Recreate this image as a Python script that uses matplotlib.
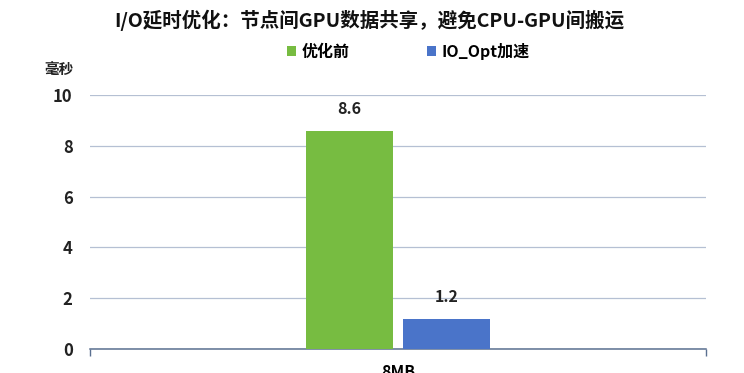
import matplotlib

matplotlib.use("Agg")
import matplotlib.pyplot as plt
import numpy as np

plt.rcParams["font.family"] = ["Noto Sans CJK SC", "DejaVu Sans"]
plt.rcParams["font.weight"] = "bold"

categories = ["8MB"]
series_names = ["优化前", "IO_Opt加速"]
before = [8.6]
optimized = [1.2]
colors = ["#77bc41", "#4a74c9"]

fig = plt.figure(figsize=(7.44, 3.73), dpi=100)
ax = fig.add_axes([0.121, 0.0643, 0.828, 0.681])

x = np.arange(len(categories))
w = 0.141
off = 0.079
b1 = ax.bar(x - off, before, w, color=colors[0], label=series_names[0], zorder=3)
b2 = ax.bar(x + off, optimized, w, color=colors[1], label=series_names[1], zorder=3)

for bars, vals in ((b1, before), (b2, optimized)):
    for r, v in zip(bars, vals):
        ax.text(r.get_x() + r.get_width() / 2, v + 0.55, f"{v}", ha="center",
                va="bottom", fontsize=11.5, fontweight="bold", color="#222222")

ax.set_xlim(-0.5, 0.5)
ax.set_ylim(0, 10)
ax.set_yticks(np.arange(0, 11, 2))
ax.set_xticks(x)
ax.set_xticklabels(categories, fontsize=11.5, fontweight="bold")
ax.set_xticks([-0.5, 0.5], minor=True)
ax.tick_params(axis="x", which="major", length=0, pad=11)
ax.tick_params(axis="x", which="minor", length=5, color="#5b7090", width=1)
ax.tick_params(axis="y", length=0, pad=12.5, labelsize=12, labelcolor="#222222")
for t in ax.get_yticklabels():
    t.set_fontweight("bold")

ax.grid(axis="y", color="#b5c0d3", lw=0.9, zorder=0)
for s in ("top", "right", "left"):
    ax.spines[s].set_visible(False)
ax.spines["bottom"].set_color("#5b7090")
ax.spines["bottom"].set_linewidth(1.1)

fig.text(0.497, 0.945, "I/O延时优化：节点间GPU数据共享，避免CPU-GPU间搬运",
         ha="center", va="center", fontsize=14, fontweight="bold", color="#111111")
fig.text(0.079, 0.815, "毫秒", ha="center", va="center", fontsize=10.5,
         fontweight="bold", color="#222222")

fig.legend(handles=[b1, b2], loc="center", bbox_to_anchor=(0.549, 0.862), ncol=2,
           frameon=False, fontsize=11.5, handlelength=0.6, handleheight=0.6,
           handletextpad=0.35, columnspacing=4.8)

fig.savefig("out.png", dpi=100)
